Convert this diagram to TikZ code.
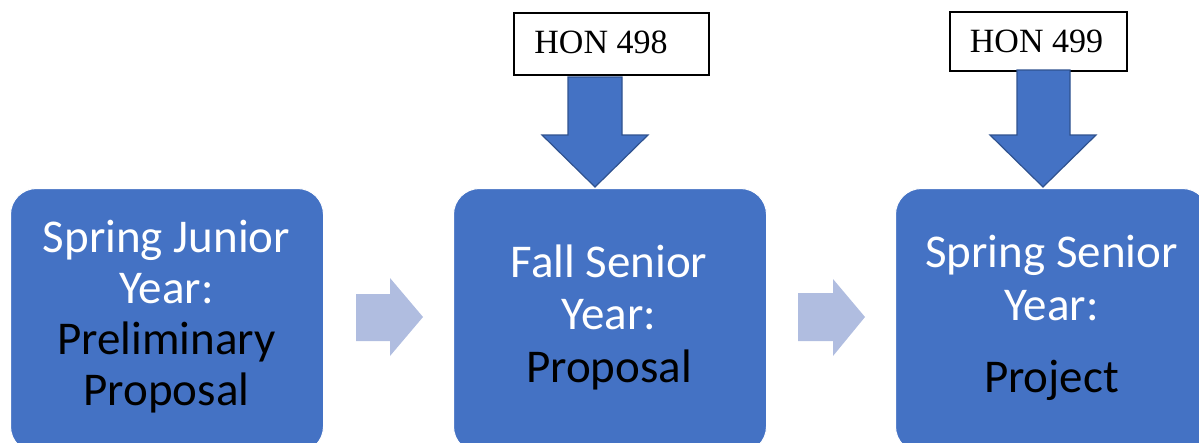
\documentclass[tikz,border=0pt]{standalone}
\usepackage{fontspec}
\newfontfamily\calfont{Carlito}
\newfontfamily\honfont{Liberation Serif}
\definecolor{boxblue}{HTML}{4472C4}
\definecolor{edgeblue}{HTML}{2F528F}
\definecolor{lightarrow}{HTML}{B0BDE0}
\tikzset{
  stagebox/.style={draw=white, line width=1pt, fill=boxblue, rounded corners=26pt,
    minimum width=313pt, minimum height=264pt, inner sep=0pt, anchor=north west},
  stagetext/.style={text=white, align=center, inner sep=0pt, anchor=base},
  honbox/.style={draw=black, line width=1.6pt, fill=white, inner sep=0pt, anchor=north west},
  hontext/.style={anchor=base, inner sep=0pt, font=\honfont\fontsize{34}{38}\selectfont},
  downarrow/.style={fill=boxblue, draw=edgeblue, line width=1.2pt, line join=miter},
  nextarrow/.style={fill=lightarrow, draw=none}
}
\begin{document}
\begin{tikzpicture}[x=1pt, y=-1pt]
\useasboundingbox (0,0) rectangle (1199,442);
\clip (0,0) rectangle (1199,442);
% stage boxes
\node[stagebox] (b1) at (10,188) {};
\node[stagebox] (b2) at (453,188) {};
\node[stagebox] (b3) at (895,188) {};
% stage texts (anchor = baseline of last line)
\node[stagetext, font=\calfont\fontsize{47}{51}\selectfont] (t1) at (166.5,405) {Spring Junior\\Year:\\\textcolor{black}{Preliminary}\\\textcolor{black}{Proposal}};
\node[stagetext, font=\calfont\fontsize{47}{52.5}\selectfont] (t2) at (609,382) {Fall Senior\\Year:\\\textcolor{black}{Proposal}};
\node[stagetext, font=\calfont\fontsize{47}{53}\selectfont] (t3) at (1051.5,392) {Spring Senior\\Year:\\[19pt]\textcolor{black}{Project}};
% course boxes
\node[honbox, minimum width=195pt, minimum height=62pt] (h1) at (513,12) {};
\node[hontext] (h1t) at (601,53) {HON 498};
\node[honbox, minimum width=177pt, minimum height=59pt] (h2) at (949,11) {};
\node[hontext] (h2t) at (1036.5,52) {HON 499};
% down arrows
\coordinate (d1) at (595,187);
\coordinate (d2) at (1043,187);
\draw[downarrow] (d1) ++(-27,-110) -- ++(0,58) -- ++(-26,0) -- (d1) -- ++(53,-52) -- ++(-26,0) -- ++(0,-58) -- cycle;
\draw[downarrow] (d2) ++(-26,-117) -- ++(0,65) -- ++(-27,0) -- (d2) -- ++(53,-52) -- ++(-26,0) -- ++(0,-65) -- cycle;
% next arrows
\coordinate (n1) at (423,317);
\coordinate (n2) at (865,317);
\fill[nextarrow] (n1) -- ++(-33,-39) -- ++(0,16) -- ++(-34,0) -- ++(0,47) -- ++(34,0) -- ++(0,15) -- cycle;
\fill[nextarrow] (n2) -- ++(-32,-38) -- ++(0,14) -- ++(-35,0) -- ++(0,48) -- ++(35,0) -- ++(0,15) -- cycle;
\end{tikzpicture}
\end{document}
